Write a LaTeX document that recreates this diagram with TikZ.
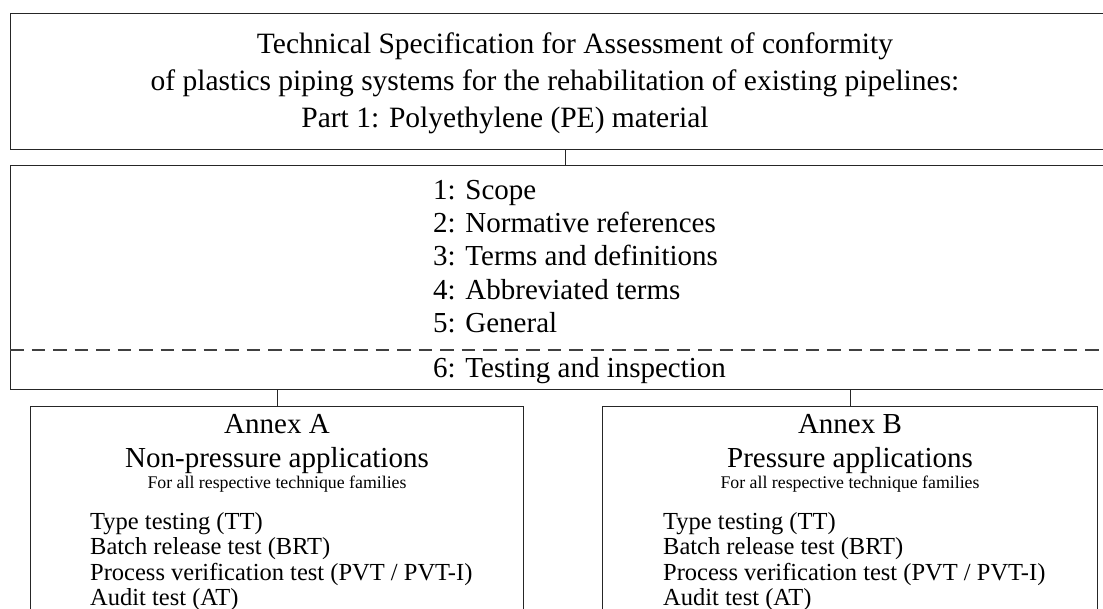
\documentclass[tikz,border=0pt]{standalone}
\usepackage{fontspec}
\setmainfont{Liberation Serif}
\begin{document}
\begin{tikzpicture}[x=1pt,y=-1pt,
  frame/.style={draw=black!85, line width=1.1pt, rectangle, inner sep=0pt, anchor=north west},
  link/.style={draw=black!85, line width=1.1pt},
  ttl/.style={inner sep=0pt, anchor=base, font=\fontsize{29.5}{32}\selectfont},
  item/.style={inner sep=0pt, anchor=base west, font=\fontsize{29}{32}\selectfont},
  ahead/.style={inner sep=0pt, anchor=base, font=\fontsize{29}{32}\selectfont},
  asub/.style={inner sep=0pt, anchor=base, font=\fontsize{17.8}{20}\selectfont},
  alist/.style={inner sep=0pt, anchor=base west, font=\fontsize{24.5}{26}\selectfont}]
\useasboundingbox (0,0) rectangle (1103,609);
\clip (0,0) rectangle (1103,609);
% boxes
\node[frame, minimum width=1110pt, minimum height=136pt] (top) at (10,13) {};
\node[frame, minimum width=1110pt, minimum height=224pt] (mid) at (10,165) {};
\node[frame, minimum width=493pt, minimum height=230pt] (annA) at (30,406) {};
\node[frame, minimum width=495pt, minimum height=230pt] (annB) at (602,406) {};
\coordinate (dashL) at (10,350);
\coordinate (dashR) at (1120,350);
\draw[line width=1.1pt, black!75, dash pattern=on 13.5pt off 8pt] (dashL) -- (dashR);
% connectors
\draw[link] (top.south) -- (mid.north);
\draw[link] (annA.north |- mid.south) -- (annA.north);
\draw[link] (annB.north |- mid.south) -- (annB.north);
% title
\node[ttl] (t1) at (575,54) {Technical Specification for Assessment of conformity};
\node[ttl] (t2) at (555,91) {of plastics piping systems for the rehabilitation of existing pipelines:};
\node[ttl] (t3) at (505,128) {Part 1: Polyethylene (PE) material};
% clauses
\node[item] (c1) at (433,200) {1: Scope};
\node[item] (c2) at (433,233) {2: Normative references};
\node[item] (c3) at (433,266) {3: Terms and definitions};
\node[item] (c4) at (433,300) {4: Abbreviated terms};
\node[item] (c5) at (433,333) {5: General};
\node[item] (c6) at (433,378) {6: Testing and inspection};
% annex A
\node[ahead] (a1) at (277,433) {Annex A};
\node[ahead] (a2) at (277,467) {Non-pressure applications};
\node[asub] (a3) at (277,488) {For all respective technique families};
\node[alist] (a4) at (90,529) {Type testing (TT)};
\node[alist] (a5) at (90,554) {Batch release test (BRT)};
\node[alist] (a6) at (90,580) {Process verification test (PVT / PVT-I)};
\node[alist] (a7) at (90,605) {Audit test (AT)};
% annex B
\node[ahead] (b1) at (850,433) {Annex B};
\node[ahead] (b2) at (850,467) {Pressure applications};
\node[asub] (b3) at (850,488) {For all respective technique families};
\node[alist] (b4) at (663,529) {Type testing (TT)};
\node[alist] (b5) at (663,554) {Batch release test (BRT)};
\node[alist] (b6) at (663,580) {Process verification test (PVT / PVT-I)};
\node[alist] (b7) at (663,605) {Audit test (AT)};
\end{tikzpicture}
\end{document}
